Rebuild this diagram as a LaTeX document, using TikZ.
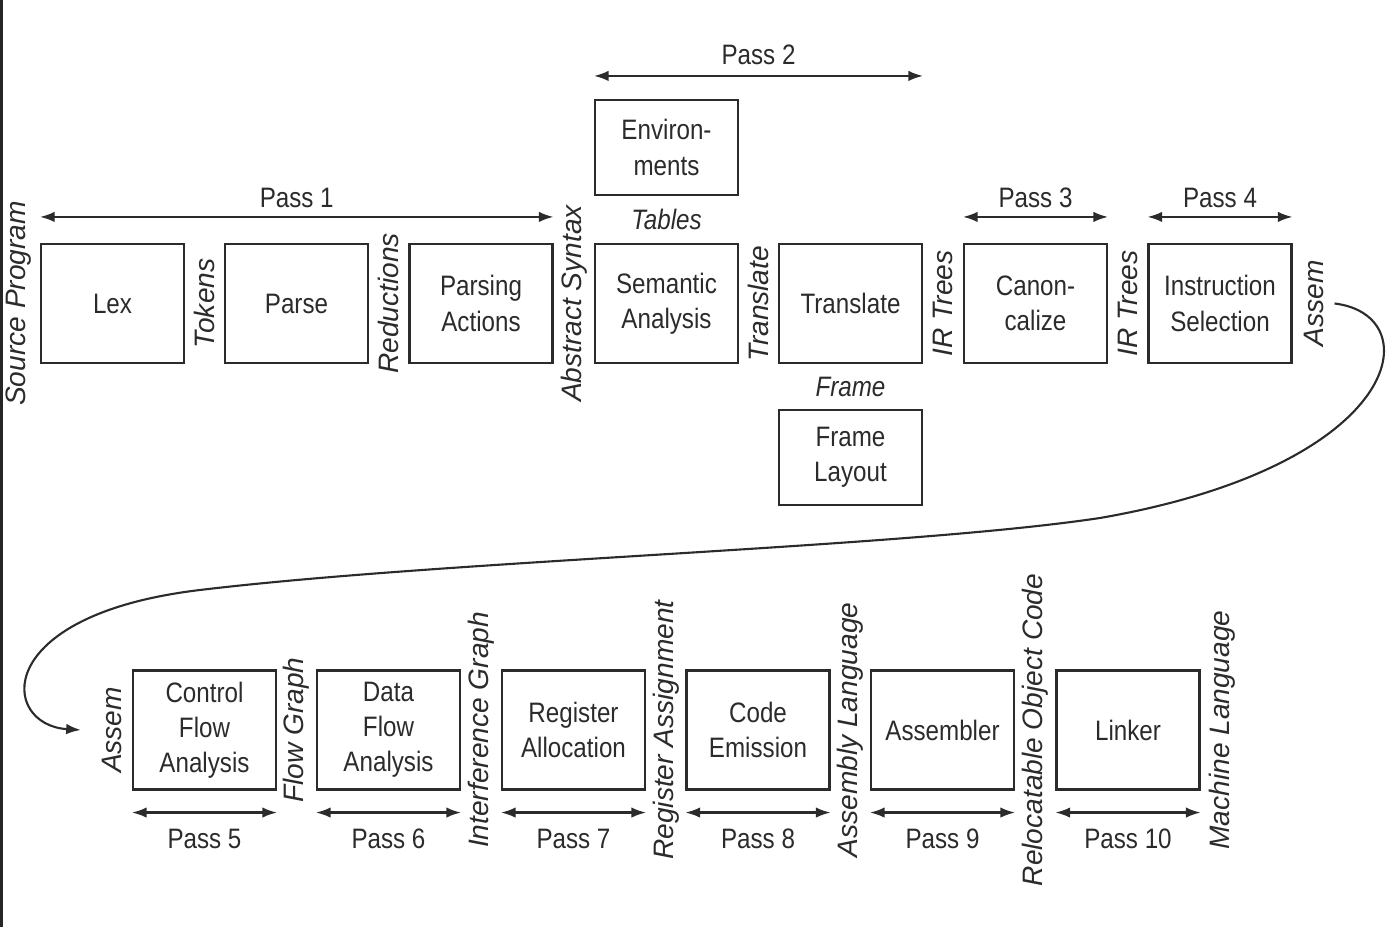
\documentclass[tikz,border=0pt]{standalone}
\usepackage{fontspec}
\setmainfont{Liberation Sans}[FakeStretch=0.86]
\newfontfamily\vlblfont{Liberation Sans}
\usetikzlibrary{arrows.meta,calc,positioning}
\definecolor{ink}{HTML}{2B2B2B}

\tikzset{
  stage/.style={draw=ink, line width=0.6pt, minimum width=14.3mm, minimum height=11.9mm, align=center, inner sep=1pt},
  tblbox/.style={stage, minimum height=9.5mm},
  datalbl/.style={rotate=90, inner sep=0pt, font=\vlblfont\itshape\fontsize{8}{10}\selectfont},
  flowtip/.tip={Latex[length=4.2pt,width=3pt]},
  passarrow/.style={flowtip-flowtip, line width=0.6pt, draw=ink},
}

\begin{document}
\begin{tikzpicture}[x=0.1mm, y=-0.1mm, text=ink, font=\fontsize{8}{10}\selectfont]
  \useasboundingbox (0,0) rectangle (1396,927);
  \fill[black!85] (0,0) rectangle (3,927);

  % front end
  \node[stage] (lex)    at (112.5,303.5) {Lex};
  \node[stage] (parse)  at (296.5,303.5) {Parse};
  \node[stage] (pact)   at (481,303.5)   {Parsing\\Actions};
  \node[stage] (sem)    at (666.5,303.5) {Semantic\\Analysis};
  \node[stage] (trans)  at (850.5,303.5) {Translate};
  \node[stage] (canon)  at (1035.5,303.5) {Canon-\\calize};
  \node[stage] (isel)   at (1220,303.5)  {Instruction\\Selection};
  \node[tblbox] (env)   at (666.5,147.5) {Environ-\\ments};
  \node[tblbox] (flay)  at (850.5,457.5) {Frame\\Layout};

  % back end
  \node[stage] (cfa)    at (204.5,730) {Control\\Flow\\Analysis};
  \node[stage] (dfa)    at (388.5,730) {Data\\Flow\\Analysis};
  \node[stage] (ralloc) at (573.5,730) {Register\\Allocation};
  \node[stage] (cemit)  at (758,730)   {Code\\Emission};
  \node[stage] (asmb)   at (942.5,730) {Assembler};
  \node[stage] (link)   at (1128,730)  {Linker};

  % interfaces
  \node[datalbl] (srcprog) at ([xshift=-2.1mm]lex.west) {Source Program};
  \node[datalbl] (tokens)  at ($(lex.east)!.5!(parse.west)$) {Tokens};
  \node[datalbl] (reduct)  at ($(parse.east)!.5!(pact.west)$) {Reductions};
  \node[datalbl] (absyn)   at ($(pact.east)!.5!(sem.west)$) {Abstract Syntax};
  \node[datalbl] (translbl) at ($(sem.east)!.5!(trans.west)$) {Translate};
  \node[datalbl] (irtreea) at ($(trans.east)!.5!(canon.west)$) {IR Trees};
  \node[datalbl] (irtreeb) at ($(canon.east)!.5!(isel.west)$) {IR Trees};
  \node[datalbl] (assema)  at ([xshift=2.1mm]isel.east) {Assem};
  \node[font=\itshape\fontsize{8}{10}\selectfont] (tables) at ($(env.south)!.5!(sem.north)$) {Tables};
  \node[font=\itshape\fontsize{8}{10}\selectfont] (frame)  at ($(trans.south)!.5!(flay.north)$) {Frame};

  \node[datalbl] (assemb)   at ([xshift=-2mm]cfa.west) {Assem};
  \node[datalbl] (flowgr)   at ($(cfa.east)!.5!(dfa.west)$) {Flow Graph};
  \node[datalbl] (intgr)    at ($(dfa.east)!.5!(ralloc.west)$) {Interference Graph};
  \node[datalbl] (regasn)   at ($(ralloc.east)!.5!(cemit.west)$) {Register Assignment};
  \node[datalbl] (asmlang)  at ($(cemit.east)!.5!(asmb.west)$) {Assembly Language};
  \node[datalbl] (relobj)   at ($(asmb.east)!.5!(link.west)$) {Relocatable Object Code};
  \node[datalbl] (machlang) at ([xshift=2.2mm]link.east) {Machine Language};

  % passes
  \draw[passarrow] ([yshift=2.6mm]lex.north west) -- ([yshift=2.6mm]pact.north east)
    node[midway, above=-1pt] {Pass 1};
  \coordinate (ptwoend) at (env.north west -| trans.east);
  \draw[passarrow] ([yshift=2.3mm]env.north west) -- ([yshift=2.3mm]ptwoend)
    node[midway, above=-0.5pt] {Pass 2};
  \foreach \b/\n in {canon/3, isel/4}
    \draw[passarrow] ([yshift=2.6mm]\b.north west) -- ([yshift=2.6mm]\b.north east)
      node[midway, above=-1pt] {Pass \n};
  \foreach \b/\n in {cfa/5, dfa/6, ralloc/7, cemit/8, asmb/9, link/10}
    \draw[passarrow] ([yshift=-2.2mm]\b.south west) -- ([yshift=-2.2mm]\b.south east)
      node[midway, below=1pt] {Pass \n};

  % front end feeds back end
  \coordinate (cstart) at ([xshift=4.2mm]isel.east);
  \coordinate (cend)   at ([xshift=-5.1mm]cfa.west);
  \draw[-flowtip, line width=0.6pt, draw=ink] (cstart)
    .. controls (1430,315) and (1405,465) .. (1100,518)
    .. controls (900,548) and (450,560) .. (200,590)
    .. controls (-10,615) and (0,725) .. (cend);
\end{tikzpicture}
\end{document}
